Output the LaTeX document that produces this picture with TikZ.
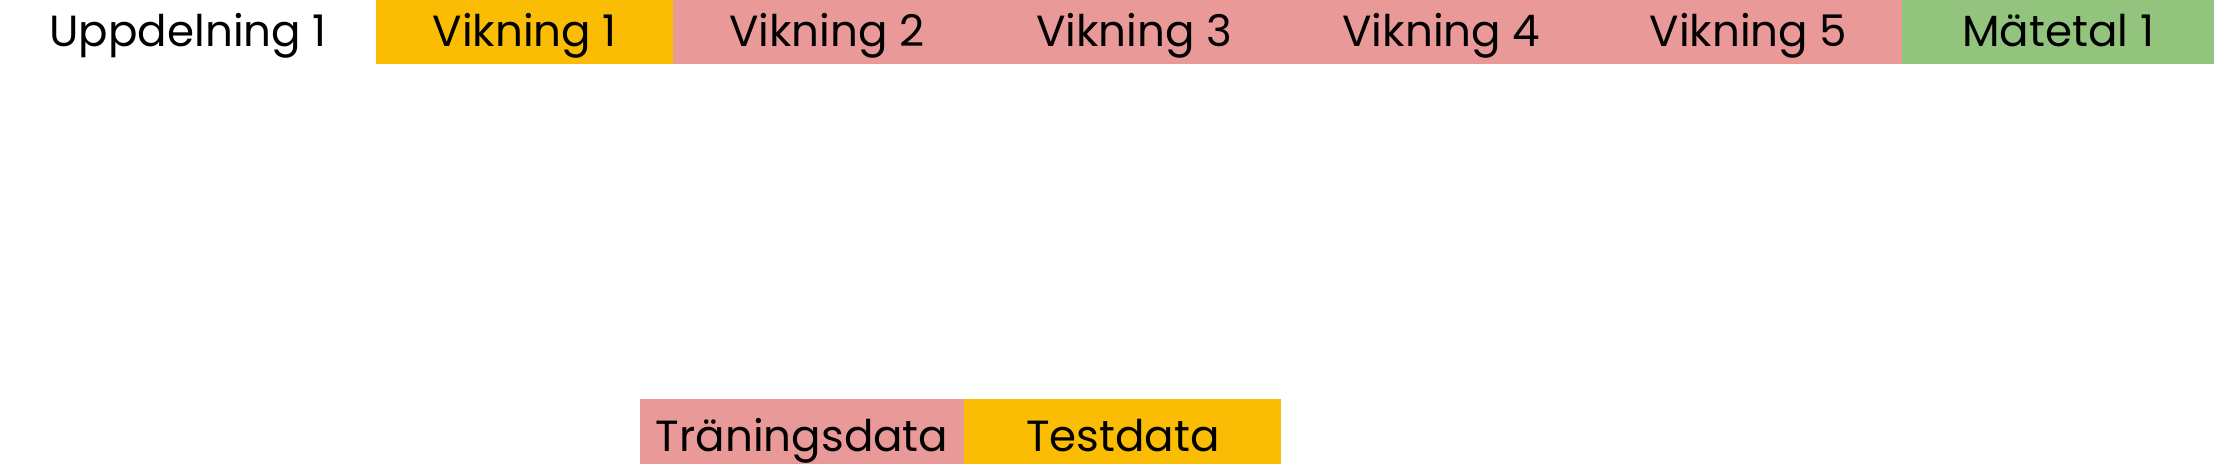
\documentclass[tikz,border=0pt]{standalone}
\usepackage{fontspec}
\setmainfont{Poppins}
\usetikzlibrary{positioning}
\definecolor{foldtest}{HTML}{FBBC04}
\definecolor{foldtrain}{HTML}{EA9999}
\definecolor{metricgreen}{HTML}{93C47D}

\begin{document}
\begin{tikzpicture}[
    x=0.01cm, y=0.01cm,
    cell/.style={rectangle, inner sep=0pt, outer sep=0pt, minimum height=0.64cm, text height=0.40cm, text depth=0.10cm, font=\fontsize{12.4}{14}\selectfont, anchor=west},
    fold/.style={cell, minimum width=3.07cm, fill=foldtrain}
]
    \useasboundingbox (0,0) rectangle (2220,464);
    \fill[white] (0,0) rectangle (2220,464);
    % top row
    \node[cell, minimum width=3.76cm] (split) at (0,432) {Uppdelning 1};
    \node[cell, minimum width=2.97cm, fill=foldtest, right=0pt of split] (v1) {Vikning 1};
    \node[fold, right=0pt of v1] (v2) {Vikning 2};
    \node[fold, right=0pt of v2] (v3) {Vikning 3};
    \node[fold, right=0pt of v3] (v4) {Vikning 4};
    \node[fold, right=0pt of v4] (v5) {Vikning 5};
    \node[cell, minimum width=3.12cm, fill=metricgreen, right=0pt of v5] (metric) {Mätetal 1};
    % legend
    \node[cell, minimum width=3.24cm, minimum height=0.75cm, fill=foldtrain] (train) at (640,27.5) {Träningsdata};
    \node[cell, minimum width=3.17cm, minimum height=0.75cm, fill=foldtest, right=0pt of train] (test) {Testdata};
\end{tikzpicture}
\end{document}
